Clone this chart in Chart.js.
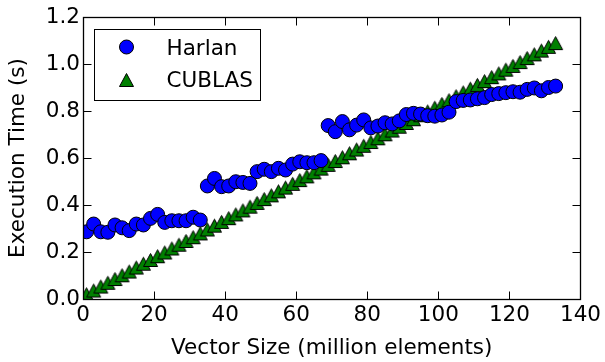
<!DOCTYPE html>
<html>
<head>
<meta charset="utf-8">
<script src="https://cdn.jsdelivr.net/npm/chart.js@4"></script>
<style>
  html, body { margin: 0; padding: 0; background: #fff; }
  #wrap { width: 605px; height: 362px; position: relative; }
</style>
</head>
<body>
<div id="wrap"><canvas id="chart"></canvas></div>
<script>
const FONT = "'DejaVu Sans', sans-serif";

const vectorSizes = [1, 3, 5, 7, 9, 11, 13, 15, 17, 19, 21, 23, 25, 27, 29, 31, 33,
    35, 37, 39, 41, 43, 45, 47, 49, 51, 53, 55, 57, 59, 61, 63, 65, 67,
    69, 71, 73, 75, 77, 79, 81, 83, 85, 87, 89, 91, 93, 95, 97, 99,
    101, 103, 105, 107, 109, 111, 113, 115, 117, 119, 121, 123, 125, 127, 129, 131, 133];

const harlanTimes = [0.286, 0.319, 0.286, 0.284, 0.315, 0.303, 0.291, 0.319, 0.315, 0.343, 0.360, 0.326, 0.333, 0.333, 0.333, 0.348, 0.336,
    0.481, 0.513, 0.478, 0.481, 0.499, 0.496, 0.492, 0.542, 0.552, 0.542, 0.556, 0.549, 0.574, 0.584, 0.580, 0.580, 0.589,
    0.738, 0.712, 0.755, 0.720, 0.740, 0.762, 0.728, 0.736, 0.750, 0.745, 0.758, 0.785, 0.790, 0.787, 0.780, 0.778,
    0.783, 0.795, 0.840, 0.845, 0.847, 0.852, 0.857, 0.870, 0.874, 0.878, 0.882, 0.880, 0.892, 0.898, 0.886, 0.900, 0.906];

const cublasTimes = [0.020, 0.036, 0.053, 0.069, 0.085, 0.101, 0.117, 0.134, 0.150, 0.166, 0.182, 0.198, 0.215, 0.231, 0.247, 0.263, 0.279,
    0.296, 0.312, 0.328, 0.344, 0.360, 0.377, 0.393, 0.409, 0.425, 0.441, 0.458, 0.474, 0.490, 0.506, 0.522, 0.539, 0.555,
    0.571, 0.587, 0.603, 0.620, 0.636, 0.652, 0.668, 0.684, 0.701, 0.717, 0.733, 0.749, 0.765, 0.782, 0.798, 0.814,
    0.830, 0.846, 0.863, 0.879, 0.895, 0.911, 0.927, 0.944, 0.960, 0.976, 0.992, 1.008, 1.025, 1.041, 1.057, 1.073, 1.089];

const xTicks = [0, 20, 40, 60, 80, 100, 120, 140];
const yTicks = [0, 0.2, 0.4, 0.6, 0.8, 1.0, 1.2];

const seriesNames = ["Harlan", "CUBLAS"];
const seriesColors = ["#0000ff", "#008000"];

// matplotlib-style "^" marker as a small canvas
function drawTriangle(ctx, cx, cy, w, h, fill) {
    ctx.beginPath();
    ctx.moveTo(cx, cy - h / 2);
    ctx.lineTo(cx - w / 2, cy + h / 2);
    ctx.lineTo(cx + w / 2, cy + h / 2);
    ctx.closePath();
    ctx.fillStyle = fill;
    ctx.fill();
    ctx.lineWidth = 1;
    ctx.strokeStyle = "#000";
    ctx.stroke();
}
const triMarker = document.createElement("canvas");
triMarker.width = 17;
triMarker.height = 16;
drawTriangle(triMarker.getContext("2d"), 8.5, 8, 14, 13, seriesColors[1]);

function toPoints(ys) {
    return vectorSizes.map((x, i) => ({ x: x, y: ys[i] }));
}

// frame with inward ticks on all four sides
const framePlugin = {
    id: "frame",
    afterDatasetsDraw(chart) {
        const { ctx, chartArea: a, scales } = chart;
        const L = Math.round(a.left) + 0.5, R = Math.round(a.right) + 0.5;
        const T = Math.round(a.top) + 0.5, B = Math.round(a.bottom) + 0.5;
        const len = 8;
        ctx.save();
        ctx.strokeStyle = "#000";
        ctx.lineWidth = 1;
        ctx.beginPath();
        xTicks.forEach(v => {
            const px = Math.round(scales.x.getPixelForValue(v)) + 0.5;
            ctx.moveTo(px, B); ctx.lineTo(px, B - len);
            ctx.moveTo(px, T); ctx.lineTo(px, T + len);
        });
        yTicks.forEach(v => {
            const py = Math.round(scales.y.getPixelForValue(v)) + 0.5;
            ctx.moveTo(L, py); ctx.lineTo(L + len, py);
            ctx.moveTo(R, py); ctx.lineTo(R - len, py);
        });
        ctx.stroke();
        ctx.lineWidth = 1.3;
        ctx.strokeRect(L, T, R - L, B - T);
        ctx.restore();
    }
};

// legend box in the upper left of the axes
const legendPlugin = {
    id: "boxLegend",
    afterDraw(chart) {
        const { ctx, chartArea: a } = chart;
        const bx = Math.round(a.left) + 11.5, by = Math.round(a.top) + 12.5;
        ctx.save();
        ctx.fillStyle = "#fff";
        ctx.fillRect(bx, by, 166, 71);
        ctx.strokeStyle = "#000";
        ctx.lineWidth = 1;
        ctx.strokeRect(bx, by, 166, 71);

        const mx = bx + 32;
        ctx.beginPath();
        ctx.arc(mx, by + 17.5, 7, 0, Math.PI * 2);
        ctx.fillStyle = seriesColors[0];
        ctx.fill();
        ctx.strokeStyle = "#000";
        ctx.stroke();
        drawTriangle(ctx, mx, by + 50.5, 14, 13, seriesColors[1]);

        ctx.fillStyle = "#000";
        ctx.font = "21.5px " + FONT;
        ctx.textAlign = "left";
        ctx.textBaseline = "alphabetic";
        ctx.fillText(seriesNames[0], bx + 72, by + 25.5);
        ctx.fillText(seriesNames[1], bx + 72, by + 57);
        ctx.restore();
    }
};

new Chart(document.getElementById("chart"), {
    type: "scatter",
    data: {
        datasets: [
            {
                label: seriesNames[0],
                data: toPoints(harlanTimes),
                pointStyle: "circle",
                pointRadius: 7,
                pointHoverRadius: 7,
                backgroundColor: seriesColors[0],
                borderColor: "#000",
                borderWidth: 1
            },
            {
                label: seriesNames[1],
                data: toPoints(cublasTimes),
                pointStyle: triMarker,
                pointRadius: 7,
                pointHoverRadius: 7,
                backgroundColor: seriesColors[1],
                borderColor: "#000",
                borderWidth: 1
            }
        ]
    },
    options: {
        responsive: true,
        maintainAspectRatio: false,
        animation: false,
        events: [],
        layout: { padding: { left: 0, top: 17, right: 23, bottom: 0 } },
        plugins: {
            legend: { display: false },
            tooltip: { enabled: false }
        },
        scales: {
            x: {
                type: "linear",
                min: 0,
                max: 140,
                afterBuildTicks: s => { s.ticks = xTicks.map(v => ({ value: v })); },
                afterFit: s => { s.height = 63; },
                grid: { display: false, drawTicks: false },
                border: { display: false },
                ticks: {
                    color: "#000",
                    padding: 4,
                    maxRotation: 0,
                    font: { family: FONT, size: 21.5 },
                    callback: v => String(v)
                },
                title: {
                    display: true,
                    text: "Vector Size (million elements)",
                    color: "#000",
                    font: { family: FONT, size: 21.5 },
                    padding: { top: 0, bottom: 1 }
                }
            },
            y: {
                min: 0,
                max: 1.2,
                afterBuildTicks: s => { s.ticks = yTicks.map(v => ({ value: v })); },
                afterFit: s => { s.width = 83; },
                grid: { display: false, drawTicks: false },
                border: { display: false },
                ticks: {
                    color: "#000",
                    padding: 3,
                    font: { family: FONT, size: 21.5 },
                    callback: v => v.toFixed(1)
                },
                title: {
                    display: true,
                    text: "Execution Time (s)",
                    color: "#000",
                    font: { family: FONT, size: 21.5 },
                    padding: { top: 6, bottom: 0 }
                }
            }
        }
    },
    plugins: [framePlugin, legendPlugin]
});
</script>
</body>
</html>
